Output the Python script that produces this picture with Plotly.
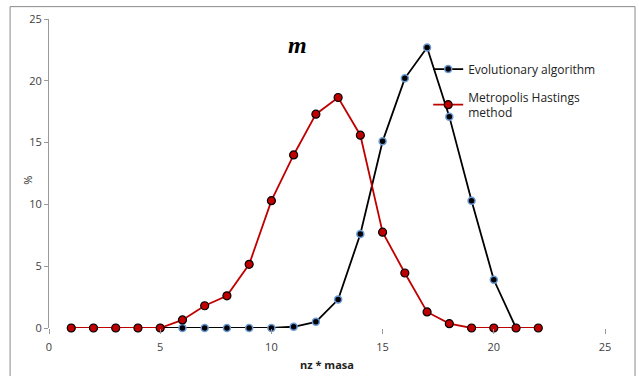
import plotly.graph_objects as go

x_evo = [1, 2, 3, 4, 5, 6, 7, 8, 9, 10, 11, 12, 13, 14, 15, 16, 17, 18, 19, 20, 21]
y_evo = [0, 0, 0, 0, 0, 0, 0, 0, 0, 0, 0.1, 0.5, 2.3, 7.6, 15.1, 20.2, 22.7, 17.1, 10.3, 3.9, 0]

x_mh = [1, 2, 3, 4, 5, 6, 7, 8, 9, 10, 11, 12, 13, 14, 15, 16, 17, 18, 19, 20, 21, 22]
y_mh = [0, 0, 0, 0, 0, 0.65, 1.8, 2.6, 5.15, 10.3, 14.0, 17.3, 18.65, 15.6, 7.75, 4.45, 1.3, 0.35, 0, 0, 0, 0]

x_ticks = [0, 5, 10, 15, 20, 25]
y_ticks = [0, 5, 10, 15, 20, 25]

fig = go.Figure()
fig.add_trace(go.Scatter(
    x=x_evo, y=y_evo, mode="lines+markers", name="Evolutionary algorithm",
    legendgroup="a",
    line=dict(color="black", width=1.8),
    marker=dict(color="black", size=7, line=dict(color="#6A9BD8", width=1.5)),
    cliponaxis=False,
))
fig.add_trace(go.Scatter(
    x=x_mh, y=y_mh, mode="lines+markers", name="Metropolis Hastings<br>method",
    legendgroup="b",
    line=dict(color="#C00000", width=1.8),
    marker=dict(color="#C00000", size=8, line=dict(color="black", width=1.2)),
    cliponaxis=False,
))

fig.update_layout(
    width=639, height=376,
    margin=dict(l=49, r=34, t=19, b=48),
    paper_bgcolor="white", plot_bgcolor="white",
    font=dict(family="Open Sans", size=11, color="#404040"),
    showlegend=True,
    legend=dict(
        x=0.682, y=0.885, xanchor="left", yanchor="top",
        bgcolor="rgba(0,0,0,0)", font=dict(family="Open Sans", size=12, color="#222"),
        itemwidth=30, traceorder="grouped", tracegroupgap=9,
    ),
    xaxis=dict(
        range=[0, 25], tickvals=x_ticks, showgrid=False, zeroline=False,
        showline=False, ticks="outside", ticklen=5, tickcolor="#999",
        ticklabelstandoff=4, automargin=False,
        title=dict(text="<b>nz * masa</b>", font=dict(size=11, color="#222"), standoff=8),
    ),
    yaxis=dict(
        range=[0, 25], tickvals=y_ticks, showgrid=False, zeroline=False,
        showline=True, linecolor="#999", linewidth=1, automargin=False,
        ticks="outside", ticklen=4, tickcolor="#999",
    ),
    annotations=[
        dict(
            text="<b><i>m</i></b>", x=0.447, y=0.916, xref="paper", yref="paper",
            xanchor="center", yanchor="middle",
            showarrow=False, font=dict(family="Liberation Serif", size=24, color="black"),
        ),
        dict(
            text="%", x=-0.038, y=0.479, xref="paper", yref="paper",
            xanchor="center", yanchor="middle", textangle=-90,
            showarrow=False, font=dict(size=11, color="#222"),
        ),
    ],
    shapes=[dict(
        type="rect", xref="paper", yref="paper",
        x0=-0.070, x1=1.054, y0=-0.3, y1=1.040,
        line=dict(color="#8a8a8a", width=1), fillcolor="rgba(0,0,0,0)", layer="below",
    )],
)

fig.write_html("out.html", config={"displayModeBar": False},
               post_script="document.body.style.margin='0';document.body.style.padding='0';")
